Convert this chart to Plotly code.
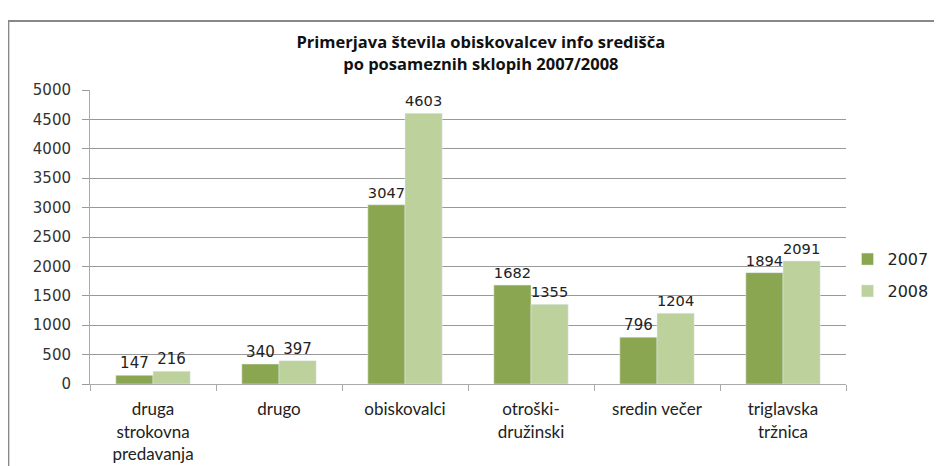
import plotly.graph_objects as go

categories = ["druga<br>strokovna<br>predavanja", "drugo", "obiskovalci",
              "otroški-<br>družinski", "sredin večer", "triglavska<br>tržnica"]
values_2007 = [147, 340, 3047, 1682, 796, 1894]
values_2008 = [216, 397, 4603, 1355, 1204, 2091]
y_ticks = [0, 500, 1000, 1500, 2000, 2500, 3000, 3500, 4000, 4500, 5000]

label_font = dict(family="DejaVu Sans, sans-serif", size=15, color="#222")

fig = go.Figure()
fig.add_trace(go.Bar(x=categories, y=values_2007, name="2007", marker_color="#8BA650",
                     legendgroup="a",
                     text=values_2007, textposition="outside", cliponaxis=False,
                     textfont=label_font))
fig.add_trace(go.Bar(x=categories, y=values_2008, name="2008", marker_color="#BCD19C",
                     legendgroup="b",
                     text=values_2008, textposition="outside", cliponaxis=False,
                     textfont=label_font))

fig.update_layout(
    width=942, height=466,
    margin=dict(l=82, r=104, t=82, b=90, autoexpand=False),
    paper_bgcolor="white", plot_bgcolor="white",
    font=dict(family="Lato, sans-serif", size=15, color="#222"),
    title=dict(text="<b>Primerjava števila obiskovalcev info središča<br>po posameznih sklopih 2007/2008</b>",
               x=0.502, xanchor="center", y=0.914, yanchor="middle",
               font=dict(family="Open Sans, sans-serif", size=16.5, color="#111")),
    barmode="group", bargap=0.41, bargroupgap=0,
    legend=dict(x=1.002, y=0.37, xanchor="left", yanchor="middle",
                font=dict(family="DejaVu Sans, sans-serif", size=16, color="#222"),
                tracegroupgap=8, itemwidth=30, bgcolor="rgba(0,0,0,0)"),
    showlegend=True,
)
fig.update_xaxes(showline=True, linecolor="#aaa", linewidth=1, ticks="outside",
                 tickson="boundaries", ticklen=6, tickcolor="#aaa",
                 ticklabelstandoff=10,
                 tickfont=dict(family="Lato, sans-serif", size=17, color="#222"))
fig.update_yaxes(range=[0, 5000], tickvals=y_ticks, showgrid=True, gridcolor="#999",
                 showline=True, linecolor="#aaa", ticks="outside", ticklen=7,
                 ticklabelstandoff=8,
                 tickcolor="#999", tickfont=dict(family="DejaVu Sans, sans-serif", size=15, color="#333"),
                 zeroline=False)
fig.add_shape(type="rect", xref="paper", yref="paper", x0=-0.108, x1=1.12, y0=-0.45, y1=1.235,
              line=dict(color="#888", width=2), fillcolor="rgba(0,0,0,0)", layer="below")

fig.write_html("out.html")
